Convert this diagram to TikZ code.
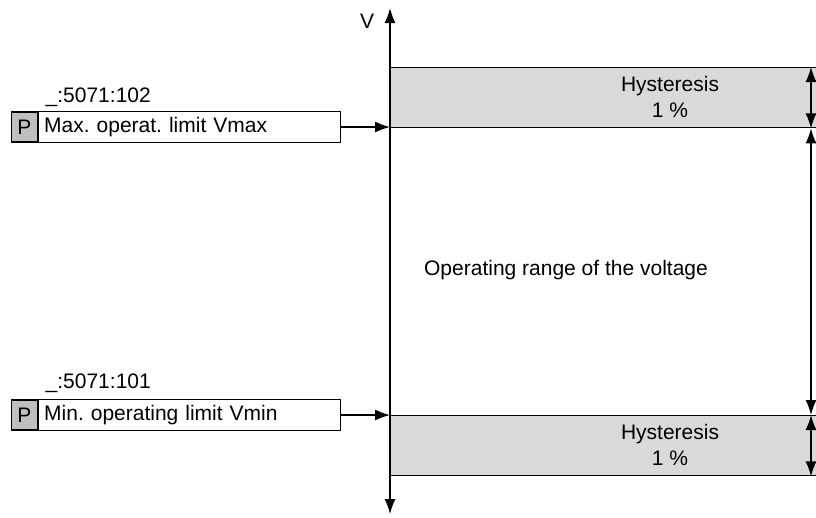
\documentclass[tikz,border=0pt]{standalone}
\usepackage{fontspec}
\setmainfont{Liberation Sans}
\usetikzlibrary{arrows.meta, positioning, calc}
\frenchspacing

\tikzset{
    parbox/.style={draw, rectangle, minimum height=30pt, minimum width=302pt, text width=291pt, align=left, inner sep=5.5pt},
    pcell/.style={draw, rectangle, fill=black!25, minimum height=30pt, minimum width=26pt, inner sep=0pt},
    band/.style={draw, rectangle, fill=black!15, minimum height=60pt, minimum width=428pt, inner sep=0pt},
}

\begin{document}
\begin{tikzpicture}[x=1pt, y=-1pt, >={Latex[length=15pt,width=11pt]}, line width=1.4pt, font=\fontsize{21}{26}\selectfont]
    \useasboundingbox (0,0) rectangle (816,517);

    % hysteresis bands
    \node [band, anchor=north west] (hmax) at (390,67) {};
    \node [band, anchor=north west] (hmin) at (390,415) {};
    \node [align=center] (hmaxtxt) at (670,97) {Hysteresis\\1 \%};
    \node [align=center] (hmintxt) at (670,445) {Hysteresis\\1 \%};

    % voltage axis
    \coordinate (vtop) at (390,8);
    \coordinate (vbot) at (390,514);
    \draw [<->] (vbot) -- (vtop);
    \node (vlabel) at (367,21) {V};

    % parameter boxes
    \node [parbox, anchor=west] (pmax) at (38,127) {Max. operat. limit Vmax};
    \node [pcell, left=0pt of pmax] (pmaxp) {P};
    \node [anchor=west, inner sep=1pt] (idmax) at (44,97) {\_:5071:102};
    \node [parbox, anchor=west] (pmin) at (38,415) {Min. operating limit Vmin};
    \node [pcell, left=0pt of pmin] (pminp) {P};
    \node [anchor=west, inner sep=1pt] (idmin) at (44,383) {\_:5071:101};

    \draw [->] (pmax.east) -- (pmax.east -| vtop);
    \draw [->] (pmin.east) -- (pmin.east -| vtop);

    % dimension arrows
    \coordinate (dim) at (811,0);
    \draw [<->] (hmax.north -| dim) -- (hmax.south -| dim);
    \draw [<->] (hmax.south -| dim) -- (hmin.north -| dim);
    \draw [<->] (hmin.north -| dim) -- (hmin.south -| dim);

    \node (range) at (566,270) {Operating range of the voltage};
\end{tikzpicture}
\end{document}
